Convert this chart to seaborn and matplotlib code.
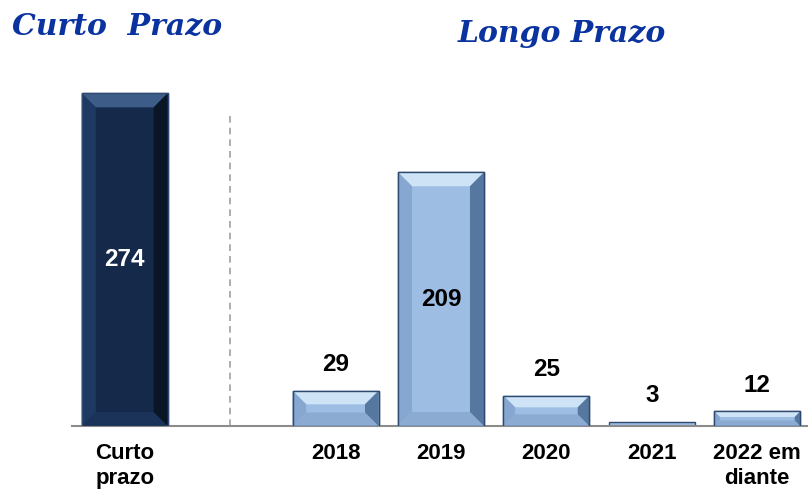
import matplotlib
matplotlib.use("Agg")
import matplotlib.pyplot as plt
from matplotlib.patches import Polygon
import seaborn as sns
import pandas as pd

categories = ["Curto\nprazo", "2018", "2019", "2020", "2021", "2022 em\ndiante"]
values = [274, 29, 209, 25, 3, 12]
order = ["Curto\nprazo", " ", "2018", "2019", "2020", "2021", "2022 em\ndiante"]
title_left = "Curto  Prazo"
title_right = "Longo Prazo"

DARK = "#15294b"
LIGHT = "#9dbde3"
palette = {c: (DARK if i == 0 else LIGHT) for i, c in enumerate(categories)}

sns.set_theme(style="white")
plt.rcParams["font.family"] = ["Liberation Sans", "DejaVu Sans"]

fig = plt.figure(figsize=(8.08, 4.95), dpi=100)
ax = fig.add_axes([0.0891, 0.1394, 0.9134, 0.699])

df = pd.DataFrame({"cat": categories, "val": values})
sns.barplot(data=df, x="cat", y="val", hue="cat", order=order, palette=palette,
            legend=False, width=0.815, saturation=1, ax=ax,
            edgecolor="#2e4a70", linewidth=1)

ax.set_xlim(-0.5, 6.5)
ax.set_ylim(0, 285)

# bevel effect derived from bar geometry
def px_to_data(px_x, px_y):
    inv = ax.transData.inverted()
    p0 = inv.transform((0, 0))
    p1 = inv.transform((px_x, px_y))
    return abs(p1[0] - p0[0]), abs(p1[1] - p0[1])

shades = {
    DARK: dict(top="#3d5c88", left="#1f3a62", right="#0a1526", bottom="#1c3359"),
    LIGHT: dict(top="#cfe3f7", left="#86a7d0", right="#56779f", bottom="#8cabd3"),
}
bars = [p for p in ax.patches if p.get_height() > 0]
for p, v in zip(bars, values):
    x0 = p.get_x(); w = p.get_width(); h = p.get_height(); x1 = x0 + w
    fc = matplotlib.colors.to_hex(p.get_facecolor())
    s = shades[DARK] if fc.lower() == DARK else shades[LIGHT]
    hpx = ax.transData.transform((0, h))[1] - ax.transData.transform((0, 0))[1]
    bpx = min(14, hpx / 2.6)
    if bpx < 2:
        continue
    dx, dy = px_to_data(bpx, bpx)
    faces = [
        ([(x0, h), (x1, h), (x1 - dx, h - dy), (x0 + dx, h - dy)], s["top"]),
        ([(x0, 0), (x1, 0), (x1 - dx, dy), (x0 + dx, dy)], s["bottom"]),
        ([(x0, h), (x0, 0), (x0 + dx, dy), (x0 + dx, h - dy)], s["left"]),
        ([(x1, h), (x1, 0), (x1 - dx, dy), (x1 - dx, h - dy)], s["right"]),
    ]
    for pts, col in faces:
        ax.add_patch(Polygon(pts, closed=True, facecolor=col, edgecolor="none", zorder=3))
    ax.add_patch(Polygon([(x0, 0), (x1, 0), (x1, h), (x0, h)], closed=True,
                         facecolor="none", edgecolor="#2e4a70", linewidth=1, zorder=4))

# value labels
for p, v, c in zip(bars, values, categories):
    cx = p.get_x() + p.get_width() / 2
    if v > 150:
        color = "white" if palette[c] == DARK else "black"
        ax.text(cx, v / 2, str(v), ha="center", va="center", fontsize=17.5,
                fontweight="bold", color=color, zorder=5)
    else:
        ax.annotate(str(v), (cx, v), xytext=(0, 19), textcoords="offset points",
                    ha="center", va="center", fontsize=17.5, fontweight="bold",
                    color="black", zorder=5)

# dashed separator
ax.axvline(order.index(" "), ymin=0, ymax=0.905, color="#a0a0a0",
           linestyle=(0, (4, 3)), linewidth=1.2)

for sp in ["top", "right", "left"]:
    ax.spines[sp].set_visible(False)
ax.spines["bottom"].set_color("#8c8c8c")
ax.spines["bottom"].set_linewidth(1.5)
ax.set_yticks([])
ax.set_xlabel("")
ax.set_ylabel("")
ax.tick_params(axis="x", length=0, pad=12)
for lbl in ax.get_xticklabels():
    lbl.set_fontsize(16)
    lbl.set_fontweight("bold")
    lbl.set_color("black")
    lbl.set_linespacing(1.25)

tfont = dict(family=["DejaVu Serif"], style="italic", weight="bold",
             fontsize=21.5, color="#0a33a0")
fig.text(12 / 808, 1 - 35 / 495, title_left, ha="left", va="baseline", **tfont)
fig.text(458 / 808, 1 - 42 / 495, title_right, ha="left", va="baseline", **tfont)

fig.savefig("out.png", dpi=100)
